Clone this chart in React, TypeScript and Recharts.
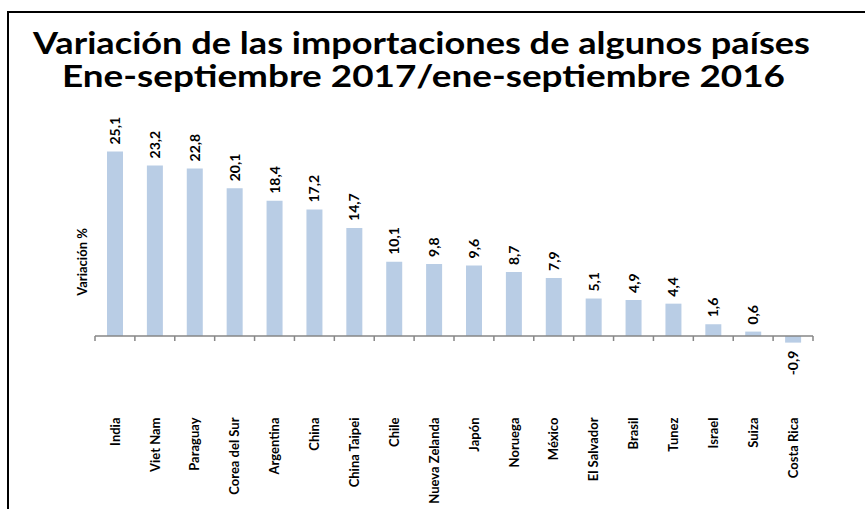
import React from "react";
import { Bar, BarChart, LabelList, ReferenceLine, XAxis, YAxis } from "recharts";

const categories = [
  "India",
  "Viet Nam",
  "Paraguay",
  "Corea del Sur",
  "Argentina",
  "China",
  "China Taipei",
  "Chile",
  "Nueva Zelanda",
  "Japón",
  "Noruega",
  "México",
  "El Salvador",
  "Brasil",
  "Tunez",
  "Israel",
  "Suiza",
  "Costa Rica",
];

const variation = [25.1, 23.2, 22.8, 20.1, 18.4, 17.2, 14.7, 10.1, 9.8, 9.6, 8.7, 7.9, 5.1, 4.9, 4.4, 1.6, 0.6, -0.9];

const titleLines = [
  "Variación de las importaciones de algunos países",
  "Ene-septiembre 2017/ene-septiembre 2016",
];

const yAxisTitle = "Variación %";

const data = categories.map((name, i) => ({ name, value: variation[i] }));

const FONT = "Lato, 'Noto Sans', sans-serif";
const AXIS_GRAY = "#868686";

function CategoryTick(props: any) {
  const { x, y, payload } = props;
  const ay = y + 8;
  return (
    <text
      x={x}
      y={ay}
      dy="0.36em"
      transform={`rotate(-90 ${x} ${ay})`}
      textAnchor="end"
      fontFamily={FONT}
      fontWeight={700}
      fontSize={13}
      fill="#000"
    >
      {payload.value}
    </text>
  );
}

function ValueLabel(props: any) {
  const { x, y, width, height, value } = props;
  const cx = x + width / 2;
  const top = Math.min(y, y + height);
  const bottom = Math.max(y, y + height);
  const neg = value < 0;
  const ay = neg ? bottom + 8 : top - 7;
  return (
    <text
      x={cx}
      y={ay}
      dy="0.36em"
      transform={`rotate(-90 ${cx} ${ay})`}
      textAnchor={neg ? "end" : "start"}
      fontFamily={FONT}
      fontWeight={700}
      fontSize={14}
      fill="#000"
    >
      {Number(value).toFixed(1).replace(".", ",")}
    </text>
  );
}

// axis line at zero with tick marks on category boundaries
function ZeroAxis(props: any) {
  const { x1, y1, x2 } = props;
  const n = categories.length;
  const step = (x2 - x1) / n;
  return (
    <g>
      <line x1={x1} y1={y1} x2={x2} y2={y1} stroke={AXIS_GRAY} strokeWidth={1.5} />
      {Array.from({ length: n + 1 }, (_, i) => (
        <line
          key={i}
          x1={x1 + i * step}
          x2={x1 + i * step}
          y1={y1}
          y2={y1 + 5}
          stroke={AXIS_GRAY}
          strokeWidth={1.5}
        />
      ))}
    </g>
  );
}

export default function App() {
  return (
    <div style={{ position: "fixed", left: 0, top: 0, width: 865, height: 509, overflow: "hidden", background: "#fff" }}>
      <div
        style={{
          position: "absolute",
          left: 7,
          top: 11,
          width: 900,
          height: 600,
          border: "2px solid #000",
        }}
      />
      <svg width={865} height={110} style={{ position: "absolute", left: 0, top: 0 }}>
        <text
          x={33}
          y={54}
          textLength={777}
          lengthAdjust="spacingAndGlyphs"
          fontFamily={FONT}
          fontWeight={700}
          fontSize={30}
          fill="#000"
        >
          {titleLines[0]}
        </text>
        <text
          x={62}
          y={87}
          textLength={723}
          lengthAdjust="spacingAndGlyphs"
          fontFamily={FONT}
          fontWeight={700}
          fontSize={30}
          fill="#000"
        >
          {titleLines[1]}
        </text>
      </svg>
      <svg width={40} height={200} style={{ position: "absolute", left: 62, top: 162 }}>
        <text
          x={20}
          y={100}
          dy="0.36em"
          transform="rotate(-90 20 100)"
          textAnchor="middle"
          fontFamily={FONT}
          fontWeight={700}
          fontSize={13}
          fill="#000"
        >
          {yAxisTitle}
        </text>
      </svg>
      <div style={{ position: "absolute", left: 0, top: 0 }}>
        <BarChart
          width={865}
          height={509}
          data={data}
          margin={{ top: 115.5, right: 52, left: 95, bottom: 9.5 }}
        >
          <XAxis
            dataKey="name"
            axisLine={false}
            tickLine={false}
            tickSize={0}
            tickMargin={0}
            interval={0}
            height={90}
            tick={<CategoryTick />}
          />
          <YAxis hide width={0} domain={[-10, 30]} type="number" />
          <Bar dataKey="value" fill="#b9cde5" barSize={16} isAnimationActive={false}>
            <LabelList dataKey="value" content={<ValueLabel />} />
          </Bar>
          <ReferenceLine y={0} shape={<ZeroAxis />} ifOverflow="visible" />
        </BarChart>
      </div>
    </div>
  );
}
